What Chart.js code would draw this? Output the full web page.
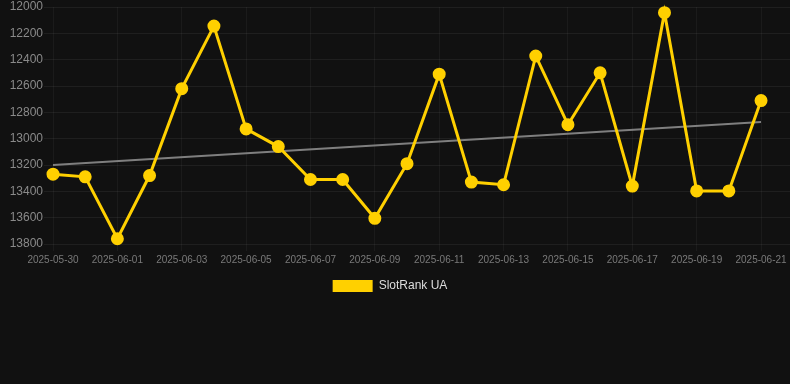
<!DOCTYPE html>
<html>
<head>
<meta charset="utf-8">
<script src="https://cdn.jsdelivr.net/npm/chart.js@4.4.1/dist/chart.umd.min.js"></script>
<style>
  html, body { margin: 0; padding: 0; background: #111111; }
  #wrap { width: 790px; height: 302px; position: relative; }
</style>
</head>
<body>
<div id="wrap"><canvas id="c"></canvas></div>
<script>
const dates = ["2025-05-30","2025-05-31","2025-06-01","2025-06-02","2025-06-03","2025-06-04","2025-06-05","2025-06-06","2025-06-07","2025-06-08","2025-06-09","2025-06-10","2025-06-11","2025-06-12","2025-06-13","2025-06-14","2025-06-15","2025-06-16","2025-06-17","2025-06-18","2025-06-19","2025-06-20","2025-06-21"];
const rankValues = [13270,13290,13760,13280,12620,12145,12926,13060,13310,13310,13605,13190,12510,13330,13350,12372,12894,12500,13360,12043,13397,13397,12711];
const trendStartEnd = [13200, 12873];
const seriesName = "SlotRank UA";
const yTicks = [12000,12200,12400,12600,12800,13000,13200,13400,13600,13800];
const xTickDates = ["2025-05-30","2025-06-01","2025-06-03","2025-06-05","2025-06-07","2025-06-09","2025-06-11","2025-06-13","2025-06-15","2025-06-17","2025-06-19","2025-06-21"];

const mainData = rankValues.map((v, i) => ({ x: i, y: v }));
const trendData = [
  { x: 0, y: trendStartEnd[0] },
  { x: dates.length - 1, y: trendStartEnd[1] }
];
const xTickIdx = xTickDates.map(d => dates.indexOf(d));

Chart.defaults.font.family = "Arial, 'Liberation Sans', Helvetica, sans-serif";

const legendShift = {
  id: 'legendShift',
  afterLayout(chart) {
    if (chart.legend) { chart.legend.left -= 5; chart.legend.right -= 5; }
  }
};

new Chart(document.getElementById('c'), {
  type: 'line',
  data: {
    datasets: [
      {
        label: seriesName,
        data: mainData,
        borderColor: '#FFD000',
        backgroundColor: '#FFD000',
        borderWidth: 3,
        pointRadius: 5,
        pointHoverRadius: 5,
        pointBackgroundColor: '#FFD000',
        pointBorderColor: '#FFD000',
        tension: 0,
        clip: false,
        order: 1
      },
      {
        label: 'trend',
        data: trendData,
        borderColor: 'rgba(140,140,140,0.9)',
        borderWidth: 2,
        pointRadius: 0,
        fill: false,
        order: 2
      }
    ]
  },
  plugins: [legendShift],
  options: {
    responsive: true,
    maintainAspectRatio: false,
    animation: false,
    layout: { padding: 0, autoPadding: false },
    plugins: {
      legend: {
        position: 'bottom',
        labels: {
          color: '#dddddd',
          boxWidth: 40,
          boxHeight: 12,
          font: { size: 12 },
          filter: (item) => item.text === seriesName,
          generateLabels: (chart) => {
            const items = Chart.defaults.plugins.legend.labels.generateLabels(chart);
            items.forEach(it => { it.lineWidth = 0; });
            return items;
          }
        }
      },
      tooltip: { enabled: false }
    },
    scales: {
      x: {
        type: 'linear',
        min: -0.28,
        max: 22.9,
        afterBuildTicks: (axis) => { axis.ticks = xTickIdx.map(v => ({ value: v })); },
        afterFit: (s) => { s.paddingRight = 0; s.paddingLeft = 0; s.height += 1; },
        ticks: {
          color: '#7a7a7a',
          font: { size: 10 },
          maxRotation: 0,
          autoSkip: false,
          callback: (v) => dates[v] || ''
        },
        grid: { color: 'rgba(255,255,255,0.045)', tickLength: 7 },
        border: { display: false }
      },
      y: {
        reverse: true,
        min: 12000,
        max: 13800,
        afterBuildTicks: (axis) => { axis.ticks = yTicks.map(v => ({ value: v })); },
        afterFit: (s) => { s.width = 44; },
        ticks: {
          color: '#8a8a8a',
          font: { size: 12, lineHeight: 1.0 },
          padding: 1,
          callback: (v) => String(v)
        },
        grid: { color: 'rgba(255,255,255,0.06)', drawTicks: false },
        border: { display: false }
      }
    }
  }
});
</script>
</body>
</html>
